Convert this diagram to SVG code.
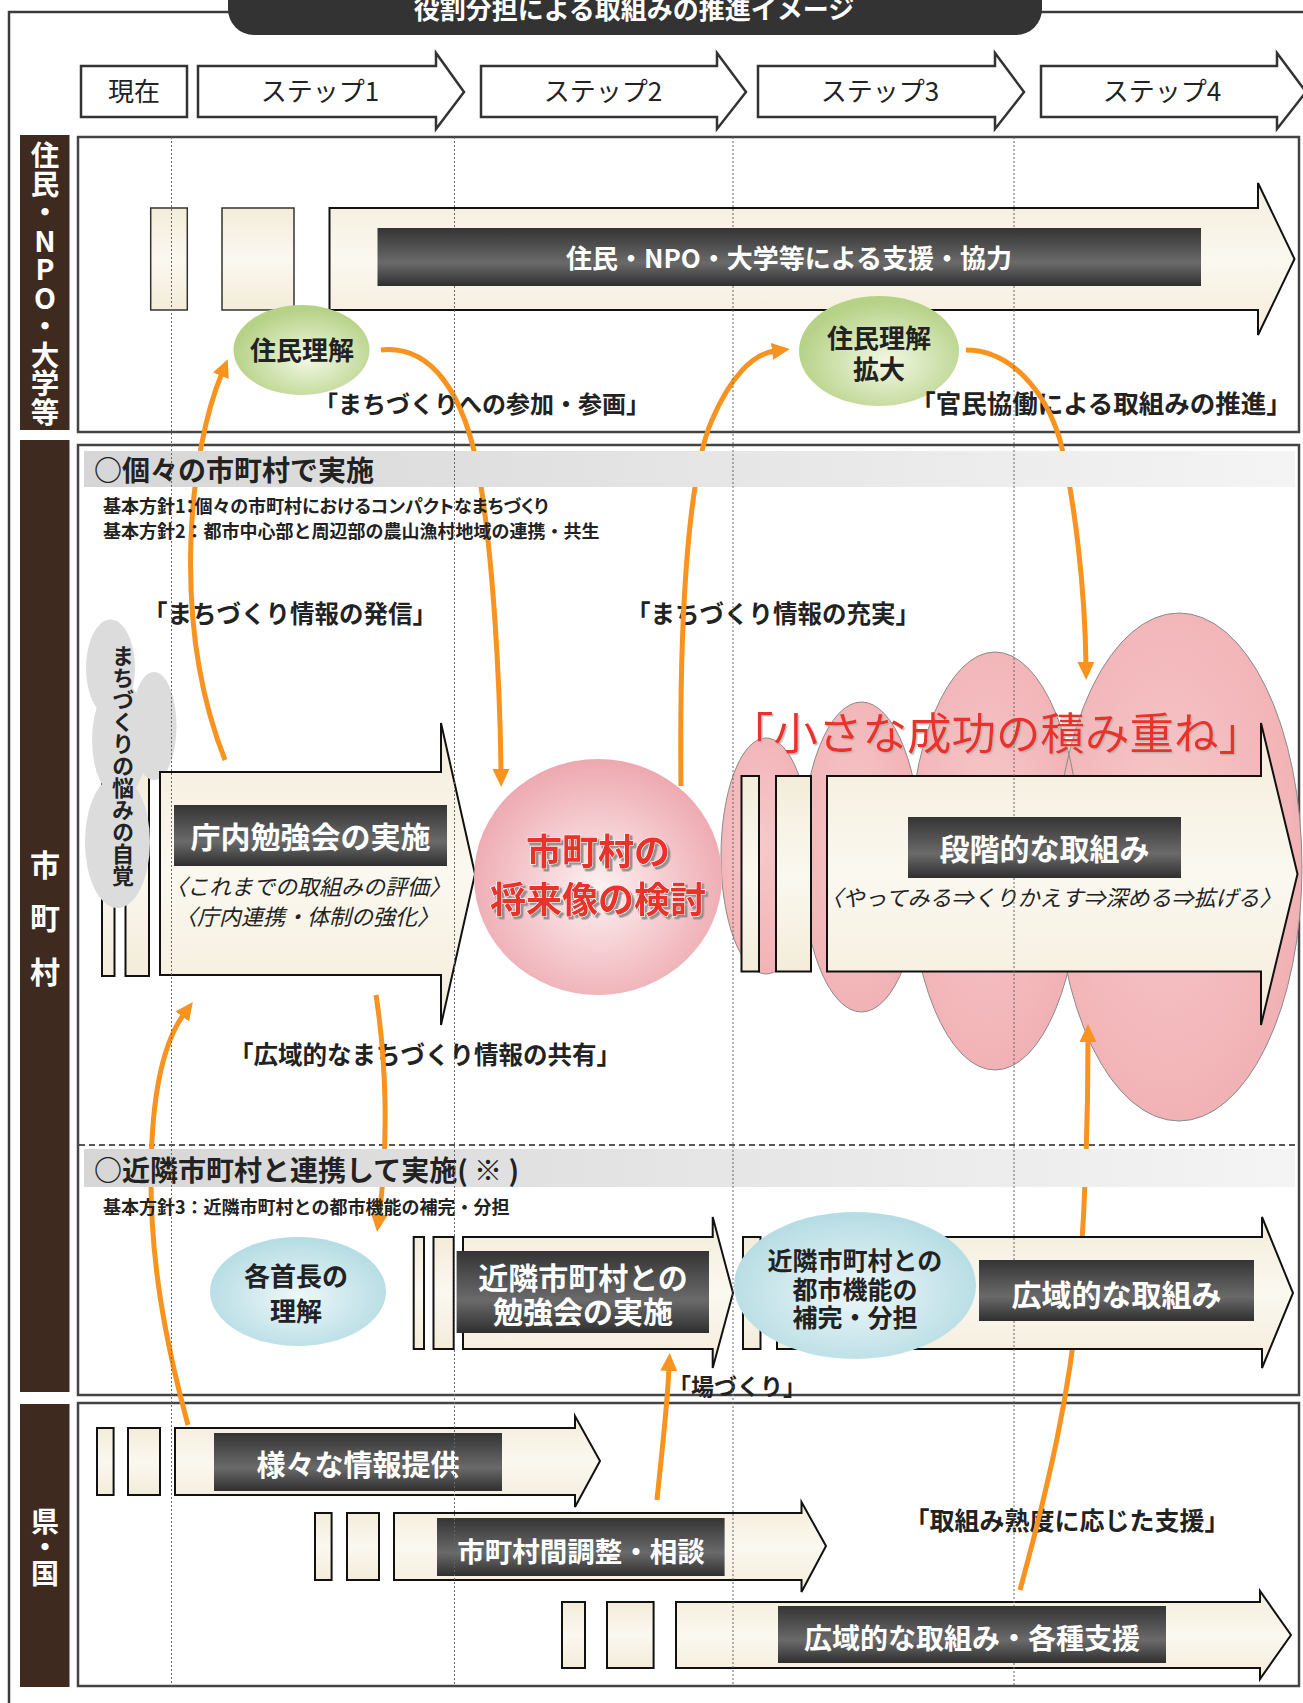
<svg xmlns="http://www.w3.org/2000/svg" width="1303" height="1703" viewBox="0 0 1303 1703">
<style>
.f{font-family:"Noto Sans CJK JP","Noto Sans CJK SC",sans-serif}
.b{font-weight:700}
.w{fill:#fff}
.k{fill:#222}
.it{font-style:italic;font-weight:400}
.m{text-anchor:middle}
.vt{writing-mode:vertical-rl;text-orientation:upright}
.cream{fill:url(#gCream);stroke:#111;stroke-width:2}
.crm2{fill:url(#gCream);stroke:#333;stroke-width:1.5}
.dark{fill:url(#gDark)}
.step{fill:#fff;stroke:#333;stroke-width:2.5}
.panel{fill:#fff;stroke:#444;stroke-width:2.5}
.brown{fill:#3e2a1f}
.conn{fill:none;stroke:#f7931e;stroke-width:5;marker-end:url(#ah)}
.vl{stroke:#666;stroke-width:1;stroke-dasharray:2 2}
.cloud{fill:url(#gCloud)}
.cloudE{fill:none;stroke:#8a8a8a;stroke-width:1}
.red{fill:#e8312a}
</style>
<defs>
<linearGradient id="gCream" x1="0" y1="0" x2="0" y2="1"><stop offset="0" stop-color="#f3ecd9"/><stop offset="0.5" stop-color="#fbf8f0"/><stop offset="1" stop-color="#f3ecd9"/></linearGradient>
<linearGradient id="gDark" x1="0" y1="0" x2="0" y2="1"><stop offset="0" stop-color="#343434"/><stop offset="0.6" stop-color="#6a6a6a"/><stop offset="1" stop-color="#2f2f2f"/></linearGradient>
<linearGradient id="gHead" x1="0" y1="0" x2="1" y2="0"><stop offset="0" stop-color="#d6d6d6"/><stop offset="1" stop-color="#f4f4f4"/></linearGradient>
<radialGradient id="gGreen" cx="0.55" cy="0.6" r="0.55"><stop offset="0" stop-color="#f2f8e4"/><stop offset="1" stop-color="#b6d287"/></radialGradient>
<radialGradient id="gBlue" cx="0.5" cy="0.55" r="0.55"><stop offset="0" stop-color="#eef7f9"/><stop offset="1" stop-color="#b4dce3"/></radialGradient>
<radialGradient id="gPink" cx="0.5" cy="0.55" r="0.55"><stop offset="0" stop-color="#fdf1f2"/><stop offset="1" stop-color="#eda8af"/></radialGradient>
<radialGradient id="gCloud" cx="0.45" cy="0.45" r="0.6"><stop offset="0" stop-color="#f7c9cb"/><stop offset="1" stop-color="#f1b0b3"/></radialGradient>
<marker id="ah" markerUnits="userSpaceOnUse" markerWidth="20" markerHeight="20" viewBox="0 0 20 20" refX="3" refY="10" orient="auto"><path d="M0,1.5 L18,10 L0,18.5 z" fill="#f7931e"/></marker>
<filter id="sh" x="-10%" y="-20%" width="130%" height="150%"><feDropShadow dx="2.5" dy="2.5" stdDeviation="0.6" flood-color="#8a8a8a" flood-opacity="0.9"/></filter>
<filter id="sh2" x="-10%" y="-20%" width="130%" height="150%"><feDropShadow dx="1.5" dy="1.5" stdDeviation="0.5" flood-color="#b0b0b0" flood-opacity="0.8"/></filter>
</defs>

<g id="frame">
<path d="M9,1703 L9,12 L230,12 M1040,12 L1303,12" fill="none" stroke="#3c3c3c" stroke-width="2.5"/>
<rect x="228" y="-30" width="814" height="65" rx="26" fill="#333"/>
<text class="f b w m" x="634" y="19" font-size="26">役割分担による取組みの推進イメージ</text>
</g>

<g id="step-now"><rect class="step" x="81" y="66" width="106" height="51"/><text class="f k m" x="134" y="101" font-size="26">現在</text></g>
<g id="step-1"><path class="step" d="M198,66 L436,66 L436,53 L464,92 L436,129 L436,117 L198,117 Z"/><text class="f k m" x="320" y="101" font-size="26">ステップ1</text></g>
<g id="step-2"><path class="step" d="M481,66 L717,66 L717,53 L746,92 L717,129 L717,117 L481,117 Z"/><text class="f k m" x="603" y="101" font-size="26">ステップ2</text></g>
<g id="step-3"><path class="step" d="M758,66 L995,66 L995,53 L1024,92 L995,129 L995,117 L758,117 Z"/><text class="f k m" x="880" y="101" font-size="26">ステップ3</text></g>
<g id="step-4"><path class="step" d="M1041,66 L1277,66 L1277,53 L1306,92 L1277,129 L1277,117 L1041,117 Z"/><text class="f k m" x="1162" y="101" font-size="26">ステップ4</text></g>

<g id="lane-residents-label"><rect class="brown" x="20" y="135" width="49.5" height="295"/>
<text class="f b w vt" x="45" y="141" font-size="28.5">住民・NPO・大学等</text></g>
<g id="lane-municipal-label"><rect class="brown" x="20" y="440" width="49.5" height="952"/>
<text class="f b w vt" x="45" y="849.5" font-size="30" letter-spacing="23.5">市町村</text></g>
<g id="lane-pref-label"><rect class="brown" x="20" y="1404" width="49.5" height="283"/>
<text class="f b w vt" x="45" y="1507" font-size="28" letter-spacing="-2">県・国</text></g>

<g id="panels">
<rect class="panel" x="78" y="137" width="1221" height="295"/>
<rect class="panel" x="78" y="445" width="1221" height="950"/>
<rect class="panel" x="78" y="1403" width="1221" height="283"/>
<line x1="79" y1="1145" x2="1298" y2="1145" stroke="#222" stroke-width="1.5" stroke-dasharray="6 4"/>
</g>

<g id="node-success-cloud">
<ellipse class="cloud" cx="1179" cy="867" rx="123" ry="254"/>
<ellipse class="cloud" cx="995" cy="861" rx="86" ry="209"/>
<ellipse class="cloud" cx="861.5" cy="857" rx="60" ry="155"/>
<ellipse class="cloud" cx="766" cy="856" rx="45" ry="118"/>
<ellipse class="cloudE" cx="1179" cy="867" rx="123" ry="254"/>
<ellipse class="cloudE" cx="995" cy="861" rx="86" ry="209"/>
<ellipse class="cloudE" cx="861.5" cy="857" rx="60" ry="155"/>
<ellipse class="cloudE" cx="766" cy="856" rx="45" ry="118"/>
</g>

<g id="node-resident-support">
<rect class="crm2" x="150.7" y="208" width="36.6" height="102"/>
<rect class="crm2" x="222" y="208" width="72" height="102"/>
<path class="cream" d="M329.5,208 L1258,208 L1258,183 L1294.5,259 L1258,335 L1258,310 L329.5,310 Z"/>
<rect class="dark" x="377.5" y="228" width="823.5" height="58"/>
<text class="f b w m" x="789" y="268" font-size="26">住民・NPO・大学等による支援・協力</text>
</g>

<g id="node-resident-understanding"><ellipse cx="301.5" cy="350" rx="68" ry="45" fill="url(#gGreen)"/><text class="f b k m" x="302" y="360" font-size="26">住民理解</text></g>
<g id="node-resident-understanding-expand"><ellipse cx="879" cy="351" rx="80" ry="55" fill="url(#gGreen)"/><text class="f b k m" x="879" y="348" font-size="26">住民理解</text><text class="f b k m" x="879" y="379" font-size="26">拡大</text></g>

<g id="node-worry">
<rect class="cream" x="102" y="772" width="12.5" height="204"/>
<rect class="cream" x="125.5" y="772" width="23.5" height="204"/>
<g fill="#dcdcdc">
<ellipse cx="110.5" cy="668" rx="24.5" ry="48.5"/>
<ellipse cx="154" cy="726" rx="22.5" ry="54"/>
<ellipse cx="120" cy="740" rx="28" ry="58"/>
<ellipse cx="117.5" cy="842" rx="32.5" ry="66"/>
</g>
<text class="f b k vt" x="123" y="645" font-size="22">まちづくりの悩みの自覚</text>
</g>

<g id="node-internal-study">
<path class="cream" d="M160,772 L441,772 L441,723 L475,874 L441,1025 L441,975 L160,975 Z"/>
<rect class="dark" x="174" y="805" width="273" height="61"/>
<text class="f b w m" x="310.5" y="848" font-size="30">庁内勉強会の実施</text>
<text class="f it k m" x="308" y="895" font-size="22">〈これまでの取組みの評価〉</text>
<text class="f it k m" x="307" y="925" font-size="22">〈庁内連携・体制の強化〉</text>
</g>

<g id="node-future-vision">
<ellipse cx="598" cy="877" rx="124" ry="118" fill="url(#gPink)"/>
<g filter="url(#sh)"><text class="f b red m" x="598" y="865" font-size="36" stroke="#fff" stroke-width="1.2" paint-order="stroke">市町村の</text>
<text class="f b red m" x="598" y="913" font-size="36" stroke="#fff" stroke-width="1.2" paint-order="stroke">将来像の検討</text></g>
</g>

<g id="node-stepwise">
<rect class="cream" x="741.5" y="776" width="17.5" height="195.5"/>
<rect class="cream" x="776" y="776" width="35" height="195.5"/>
<path class="cream" d="M827,776 L1261,776 L1261,723 L1297.5,874 L1261,1025 L1261,971.5 L827,971.5 Z"/>
<rect class="dark" x="908" y="817" width="273" height="61"/>
<text class="f b w m" x="1044.5" y="860" font-size="30">段階的な取組み</text>
<text class="f it k m" x="1051" y="906" font-size="22">〈やってみる⇒くりかえす⇒深める⇒拡げる〉</text>
</g>
<g id="label-success"><text class="f red m" x="996" y="750" font-size="44.5" filter="url(#sh2)">「小さな成功の積み重ね」</text></g>

<g id="node-neighbor-study">
<rect class="cream" x="413.7" y="1237" width="10.3" height="112"/>
<rect class="cream" x="433.5" y="1237" width="20.2" height="112"/>
<path class="cream" d="M463,1237 L712.7,1237 L712.7,1217 L733,1293 L712.7,1368 L712.7,1349 L463,1349 Z"/>
<rect class="dark" x="456.6" y="1251" width="252.4" height="82"/>
<text class="f b w m" x="583" y="1289" font-size="30">近隣市町村との</text>
<text class="f b w m" x="583" y="1323" font-size="30">勉強会の実施</text>
</g>

<g id="node-mayors"><ellipse cx="298" cy="1291.5" rx="88" ry="54.5" fill="url(#gBlue)"/><text class="f b k m" x="296" y="1286" font-size="26">各首長の</text><text class="f b k m" x="296" y="1321" font-size="26">理解</text></g>

<g id="node-info-provision">
<rect class="cream" x="97" y="1428" width="16.6" height="67"/>
<rect class="cream" x="128" y="1428" width="32" height="67"/>
<path class="cream" d="M175,1428 L575,1428 L575,1416 L600,1461 L575,1507 L575,1495 L175,1495 Z"/>
<rect class="dark" x="214" y="1433" width="288" height="58"/>
<text class="f b w m" x="358" y="1476" font-size="29">様々な情報提供</text>
</g>
<g id="node-coordination">
<rect class="cream" x="315" y="1513" width="16.6" height="67"/>
<rect class="cream" x="347" y="1513" width="32" height="67"/>
<path class="cream" d="M394,1513 L801.5,1513 L801.5,1502 L826,1546 L801.5,1592 L801.5,1580 L394,1580 Z"/>
<rect class="dark" x="437" y="1518" width="287.6" height="58"/>
<text class="f b w m" x="581" y="1562" font-size="27.5">市町村間調整・相談</text>
</g>
<g id="node-regional-support">
<rect class="cream" x="562" y="1602" width="23" height="66"/>
<rect class="cream" x="607" y="1602" width="46.6" height="66"/>
<path class="cream" d="M676,1602 L1260,1602 L1260,1591 L1291,1635 L1260,1679 L1260,1668 L676,1668 Z"/>
<rect class="dark" x="778" y="1606" width="388" height="57"/>
<text class="f b w m" x="972" y="1649" font-size="28">広域的な取組み・各種支援</text>
</g>

<g id="labels">
<text class="f b k m" x="482" y="413" font-size="24">「まちづくりへの参加・参画」</text>
<text class="f b k m" x="1101" y="413" font-size="25.5">「官民協働による取組みの推進」</text>
<text class="f b k m" x="290" y="623" font-size="24.5">「まちづくり情報の発信」</text>
<text class="f b k m" x="773" y="623" font-size="24.5">「まちづくり情報の充実」</text>
<text class="f b k m" x="425" y="1064" font-size="24.5">「広域的なまちづくり情報の共有」</text>
<text class="f b k m" x="737" y="1395" font-size="23">「場づくり」</text>
<text class="f b k m" x="1067" y="1530" font-size="25">「取組み熟度に応じた支援」</text>
</g>

<g id="connectors">
<path class="conn" d="M225,760 C170,620 190,450 222,373"/>
<path class="conn" d="M381,350 C430,345 465,390 480,480 C493,560 500,680 501,772"/>
<path class="conn" d="M681,786 C679,600 690,470 712,420 C730,378 752,354 775,351"/>
<path class="conn" d="M966,350 C1010,350 1045,390 1060,440 C1075,500 1085,590 1086,665"/>
<path class="conn" d="M376,995 C386,1060 389,1140 379,1217"/>
<path class="conn" d="M188,1425 C165,1340 150,1260 151,1170 C152,1090 165,1040 184,1014"/>
<path class="conn" d="M657,1500 C662,1450 667,1410 669,1368"/>
<path class="conn" d="M1020,1590 C1050,1480 1070,1390 1078,1300 C1086,1200 1088,1100 1088,1039"/>
</g>

<g id="node-regional">
<rect class="cream" x="743" y="1237" width="17.5" height="112"/>
<rect class="cream" x="777" y="1237" width="35" height="112"/>
<path class="cream" d="M827,1237 L1262,1237 L1262,1217 L1293,1293 L1262,1368 L1262,1349 L827,1349 Z"/>
<ellipse cx="855" cy="1285.5" rx="121" ry="73.5" fill="url(#gBlue)"/>
<text class="f b k m" x="855" y="1270" font-size="25">近隣市町村との</text>
<text class="f b k m" x="855" y="1299" font-size="25">都市機能の</text>
<text class="f b k m" x="855" y="1327" font-size="25">補完・分担</text>
<rect class="dark" x="979" y="1260" width="275" height="61"/>
<text class="f b w m" x="1116.5" y="1306" font-size="30">広域的な取組み</text>
</g>

<g id="section-individual">
<rect x="84" y="451" width="1211" height="36" fill="url(#gHead)"/>
<text class="f b k" x="94" y="481" font-size="28">○個々の市町村で実施</text>
<text class="f b k" x="103" y="513" font-size="18" style="font-feature-settings:'palt'">基本方針1：個々の市町村におけるコンパクトなまちづくり</text>
<text class="f b k" x="103" y="538" font-size="18">基本方針2：都市中心部と周辺部の農山漁村地域の連携・共生</text>
</g>
<g id="section-neighbor">
<rect x="84" y="1149" width="1211" height="38" fill="url(#gHead)"/>
<text class="f b k" x="94" y="1181" font-size="28">○近隣市町村と連携して実施( ※ )</text>
<text class="f b k" x="103" y="1214" font-size="18">基本方針3：近隣市町村との都市機能の補完・分担</text>
</g>

<g id="step-guides" class="vl">
<line x1="171.5" y1="137" x2="171.5" y2="1686"/>
<line x1="454.5" y1="137" x2="454.5" y2="228"/><line x1="454.5" y1="286" x2="454.5" y2="1686"/>
<line x1="733" y1="137" x2="733" y2="228"/><line x1="733" y1="286" x2="733" y2="1686"/>
<line x1="1014" y1="137" x2="1014" y2="228"/><line x1="1014" y1="286" x2="1014" y2="817"/><line x1="1014" y1="878" x2="1014" y2="1260"/><line x1="1014" y1="1321" x2="1014" y2="1606"/><line x1="1014" y1="1663" x2="1014" y2="1686"/>
</g>
</svg>
